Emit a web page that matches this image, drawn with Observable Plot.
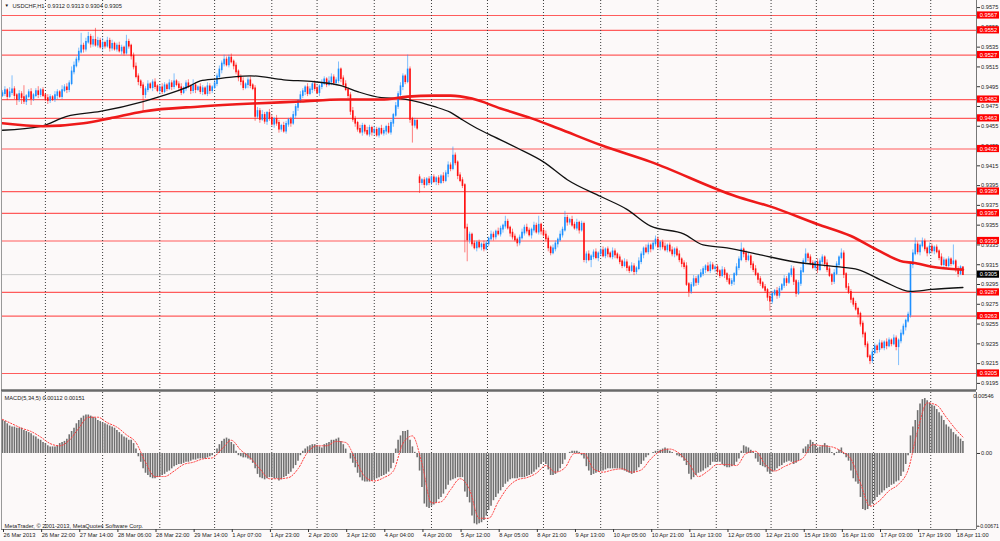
<!DOCTYPE html>
<html><head><meta charset="utf-8">
<script src="https://cdn.jsdelivr.net/npm/d3@7"></script>
<script src="https://cdn.jsdelivr.net/npm/@observablehq/plot@0.6"></script>
<style>
html,body{margin:0;padding:0;background:#fcf9f9;}
#chart{width:1000px;height:541px;background:#fcf9f9;overflow:hidden;}
#chart svg{display:block;}
</style></head><body><div id="chart"></div>
<script>
// ---------- DATA (prices in pips above 0.9000, MACD in units of 0.0001) ----------
const symbolTitle = "USDCHF,H1";
const firstOpenPips = 486;
const gapBars = [175];
const gapOpenPips = [403];
const closePips = [
488,491,485,489,492,486,482,487,484,480,485,489,483,486,490,487,491,486,483,481,
484,482,486,489,485,491,494,492,498,510,516,522,530,536,533,540,545,538,542,537,
541,535,539,536,541,534,538,533,536,531,534,529,540,536,526,515,505,500,496,487,
492,497,494,499,495,491,494,490,496,493,498,495,500,497,494,489,493,498,495,491,
496,492,494,490,493,488,495,491,494,498,505,512,518,522,517,524,520,516,510,504,
500,494,497,501,496,493,465,470,462,466,460,468,463,457,462,458,452,455,450,457,
461,458,466,474,480,486,490,494,488,492,497,493,489,495,498,502,497,500,504,499,
501,512,503,497,492,486,470,462,458,452,449,455,450,447,453,449,451,446,452,448,
450,454,449,458,466,475,487,495,505,500,512,462,456,460,453,398,400,396,401,398,
403,399,402,398,404,400,407,415,412,425,418,405,400,395,352,340,345,336,332,337,
333,335,331,336,341,345,343,348,346,351,354,358,352,347,343,340,337,342,347,352,
349,345,350,354,348,355,349,345,341,332,327,331,336,340,345,350,362,358,360,355,
352,357,350,356,320,325,320,323,327,322,326,329,324,330,326,323,328,325,322,318,
314,317,312,309,313,308,311,318,325,331,328,334,331,336,340,333,337,333,330,334,
329,326,330,325,320,316,313,295,288,294,300,297,303,306,310,313,309,314,311,312,
308,304,309,305,300,296,298,305,312,320,330,326,320,323,315,310,305,300,296,292,
289,282,278,285,288,284,290,294,300,297,305,310,298,286,296,308,318,325,322,316,
312,317,310,318,322,316,310,304,298,306,315,322,326,305,292,287,280,275,270,265,
255,245,234,222,218,226,232,229,235,231,236,233,238,235,240,232,238,245,252,258,
264,315,326,335,328,334,338,331,327,333,329,332,328,322,315,319,314,320,316,318,
310,306,312,305];
const upperWick = [
3,4,2,5,14,3,2,4,3,12,2,3,4,2,3,5,2,3,2,4,
3,2,4,3,2,5,3,4,3,5,4,3,4,13,3,4,5,3,4,12,
4,3,5,2,4,3,4,2,3,4,3,2,7,3,2,3,4,3,2,3,
3,4,2,3,4,2,3,4,3,2,4,3,8,2,3,4,2,3,4,2,
6,3,2,4,3,2,4,3,2,4,3,4,3,5,3,3,4,2,3,2,
3,4,2,3,4,2,3,4,3,5,3,2,4,3,2,4,3,2,4,3,
2,3,4,3,2,4,3,2,4,3,2,4,3,2,4,3,2,5,4,3,
3,8,2,3,4,2,3,4,3,2,4,3,2,4,3,2,4,3,2,4,
3,2,4,3,2,4,3,4,3,2,15,3,2,3,2,3,2,3,2,3,
2,3,2,3,2,4,3,4,3,9,3,2,3,3,2,4,3,2,3,2,
3,2,4,3,2,4,3,2,4,3,2,6,3,2,4,3,2,3,4,3,
4,3,2,4,3,9,2,3,4,3,2,4,3,2,4,3,7,3,2,4,
3,4,2,3,2,3,4,2,3,4,2,3,4,2,3,2,4,3,2,3,
2,4,3,2,4,3,2,4,3,2,4,3,2,3,4,3,2,3,4,2,
3,4,2,3,4,2,3,4,2,3,4,3,2,4,3,2,4,4,3,2,
3,2,4,3,2,4,3,2,4,3,7,2,3,4,2,3,4,2,3,2,
3,2,4,3,2,4,3,2,4,3,2,4,3,2,3,4,3,6,2,3,
3,2,4,3,3,2,4,3,2,4,3,2,5,3,2,4,3,2,3,2,
2,3,2,3,2,4,3,2,4,3,2,4,3,2,4,3,2,4,3,2,
3,2,4,7,3,2,4,3,2,4,3,2,3,2,4,3,2,3,2,17,
2,3,2,1];
const lowerWick = [
2,3,4,2,3,4,6,3,7,3,4,2,7,3,2,4,3,2,3,4,
3,2,3,4,2,3,2,4,3,2,3,2,3,2,4,3,2,4,3,2,
3,2,4,3,2,4,3,2,3,2,4,3,2,3,4,3,2,4,3,17,
4,3,2,4,3,2,4,3,2,3,2,4,3,2,4,3,2,3,2,4,
3,4,2,3,4,2,3,4,3,2,3,2,4,3,2,3,2,4,3,4,
4,3,2,4,3,2,5,3,4,2,3,4,3,2,4,3,4,3,2,3,
3,4,2,3,4,2,3,4,3,2,4,3,2,4,3,2,3,2,4,3,
2,3,4,3,2,3,4,3,4,3,2,4,3,2,3,4,3,2,3,2,
3,4,2,3,4,2,3,2,4,3,2,4,18,3,2,11,3,4,2,3,
3,2,4,3,2,3,2,4,3,2,3,4,2,3,25,22,4,3,2,4,
2,4,3,2,3,2,4,3,2,3,4,3,2,4,3,2,4,3,2,3,
3,2,4,3,2,3,4,2,3,4,3,2,3,4,2,3,2,4,3,2,
2,3,4,2,3,4,2,8,3,2,4,3,2,3,4,2,3,4,2,3,
3,2,4,3,2,4,3,2,3,4,2,3,4,2,3,2,4,3,2,3,
2,3,4,2,3,4,3,2,6,3,2,4,3,2,3,4,2,3,2,4,
4,3,2,4,3,2,3,4,2,3,2,4,3,2,4,3,2,4,3,2,
3,4,10,3,2,4,3,2,3,4,2,3,4,4,2,3,2,3,4,2,
2,3,4,2,3,4,3,2,4,3,2,3,2,4,3,2,4,3,2,4,
3,4,3,2,4,3,2,4,3,2,3,4,2,3,2,4,19,3,2,4,
2,3,4,2,3,4,2,3,4,2,3,4,2,3,2,4,3,2,3,2,
3,4,2,1];
const macdHist = [
30,29,27,25,24,24,23,23,23,21,20,19,18,16,15,13,12,10,9,7,
6,6,6,7,9,10,11,13,17,20,23,27,30,32,34,35,35,34,33,32,
30,29,28,27,26,25,24,23,21,19,17,15,14,12,12,9,4,-3,-8,-14,
-18,-20,-22,-23,-23,-22,-21,-20,-19,-17,-16,-14,-12,-11,-10,-10,-9,-8,-8,-7,
-6,-6,-5,-5,-5,-5,-4,-3,-2,0,4,8,11,13,14,13,10,8,2,-2,
-3,-4,-4,-5,-6,-9,-14,-19,-22,-23,-24,-23,-22,-22,-23,-23,-25,-24,-22,-21,
-19,-17,-14,-11,-7,-2,2,4,6,7,8,8,7,6,5,8,9,10,12,12,
13,14,11,8,4,0,-5,-9,-13,-18,-22,-25,-26,-26,-26,-25,-24,-23,-22,-21,
-20,-19,-17,-14,-9,4,12,16,20,20,21,12,6,1,-4,-16,-31,-46,-49,-50,
-48,-47,-45,-42,-40,-37,-33,-29,-25,-24,-23,-22,-22,-22,-35,-40,-45,-57,-64,-65,
-64,-63,-61,-57,-52,-48,-43,-40,-37,-34,-31,-28,-26,-24,-23,-23,-23,-22,-22,-22,
-21,-20,-19,-17,-15,-13,-10,-8,-10,-15,-20,-20,-19,-17,-14,-10,-6,0,1,2,
2,2,1,-2,-5,-12,-16,-20,-19,-18,-17,-16,-16,-15,-14,-14,-14,-14,-14,-14,
-15,-16,-17,-18,-19,-18,-16,-13,-10,-7,-4,-2,0,1,2,2,3,4,5,4,
2,1,0,-2,-3,-4,-7,-11,-19,-24,-22,-20,-18,-17,-16,-14,-13,-11,-8,-8,
-8,-8,-10,-12,-13,-13,-12,-11,-8,-5,2,7,6,5,3,1,-5,-8,-11,-12,
-13,-17,-19,-17,-16,-14,-12,-11,-9,-8,-7,-8,-10,-9,-7,0,4,6,8,12,
10,8,5,6,7,9,7,5,1,-2,1,3,5,-1,-4,-7,-16,-23,-26,-28,
-40,-51,-52,-51,-48,-46,-43,-40,-38,-36,-34,-32,-31,-29,-28,-26,-25,-21,-17,-10,
-2,16,24,30,39,45,49,50,48,46,44,43,40,37,34,30,26,24,22,19,
17,15,13,11];
const signalBars = [0,4,8,12,16,20,24,28,32,36,40,44,48,52,56,60,64,68,72,76,80,84,88,92,96,100,
104,108,112,116,120,124,128,132,136,140,144,148,152,156,160,164,168,172,176,180,184,188,192,196,200,
204,208,212,216,220,224,228,232,236,240,244,248,252,256,260,264,268,272,276,280,284,288,292,296,300,
304,308,312,316,320,324,328,332,336,340,344,348,352,356,360,364,368,372,376,380,384,388,392,396,400,403];
const signalVals = [31,27,23,20,15,9,7,12,23,33,33,28,24,17,10,-8,-21,-21,-16,-10,
-8,-5,-4,4,12,3,-4,-14,-23,-23,-22,-14,1,7,7,11,10,-5,-21,-25,
-22,-16,9,16,-9,-45,-44,-33,-23,-33,-59,-59,-44,-31,-24,-22,-18,-11,-17,-13,
0,0,-14,-17,-15,-14,-17,-15,-5,2,4,0,-9,-21,-16,-10,-10,-11,0,2,
-10,-16,-12,-8,-4,8,7,6,2,-5,-27,-48,-43,-34,-28,-15,21,46,44,33,22,15];
const blackMABars = [0,16,27,41,59,66,78,83,90,97,104,118,131,142,149,159,167,172,181,188,192,199,204,216,227,237,251,262,272,286,294,304,318,332,350,359,370,381,390,403];
const blackMAPips = [451,455,465,470,480,485,495,501,503,505,506,502,500,496,490,484,483,481,475,469,463,453,447,433,419,401,384,371,354,346,335,332,325,318,313,310,298,288,290,292];
const redMABars = [0,17,34,45,59,83,105,125,142,159,170,181,188,197,209,222,233,251,272,308,322,342,356,367,378,382,390,393,403];
const redMAPips = [458,455,458,463,470,475,478,480,482,482,485,486,486,483,473,463,453,436,419,384,374,356,344,330,318,317,313,312,310];
const levels = [0.9567,0.9552,0.9527,0.9482,0.9463,0.9432,0.9389,0.9367,0.9339,0.9287,0.9263,0.9205];
const bidPrice = 0.9305;
const priceTicks = [0.9575,0.9555,0.9535,0.9515,0.9495,0.9475,0.9455,0.9435,0.9415,0.9395,0.9375,0.9355,0.9335,0.9315,0.9295,0.9275,0.9255,0.9235,0.9215,0.9195];
const gridBars = [18,42,66,89,113,132,156,180,203.5,227,251,275,299.5,322.5,341.5,365.5,389.5];
const labelBars = [0,16,32,48,64,80,96,112,128,144,160,176,192,208,224,240,256,272,288,304,320,336,352,368,384,400];
const labelTexts = ["26 Mar 2013","26 Mar 22:00","27 Mar 14:00","28 Mar 06:00","28 Mar 22:00","29 Mar 14:00","1 Apr 07:00","1 Apr 23:00","2 Apr 20:00","3 Apr 12:00","4 Apr 04:00","4 Apr 20:00","5 Apr 12:00","8 Apr 05:00","8 Apr 21:00","9 Apr 13:00","10 Apr 05:00","10 Apr 21:00","11 Apr 13:00","12 Apr 05:00","12 Apr 21:00","15 Apr 19:00","16 Apr 11:00","17 Apr 03:00","17 Apr 19:00","18 Apr 11:00"];
const macdTitle = "MACD(5,34,5) 0.00112 0.00151";
const macdMax = 0.00546, macdMin = -0.00671;
const copyright = "MetaTrader, \u00a9 2001-2013, MetaQuotes Software Corp.";

// ---------- BUILD ----------
const P = p => 0.9 + p / 10000;
const M = v => v / 10000;
const gapMap = new Map(gapBars.map((b, k) => [b, gapOpenPips[k]]));
const bars = closePips.map((c, i) => {
  const o = gapMap.has(i) ? gapMap.get(i) : (i === 0 ? firstOpenPips : closePips[i - 1]);
  return {i, o: P(o), c: P(c), h: P(Math.max(o, c) + upperWick[i]), l: P(Math.min(o, c) - lowerWick[i]), up: c >= o};
});
const last = bars[bars.length - 1];
const title = `${symbolTitle}  ${last.o.toFixed(4)} ${last.h.toFixed(4)} ${last.l.toFixed(4)} ${last.c.toFixed(4)}`;
const macdData = macdHist.map((v, i) => ({i, v: M(v)}));
const signalData = signalBars.map((b, k) => ({i: b, v: M(signalVals[k])}));
const blackMA = blackMABars.map((b, k) => ({i: b, v: P(blackMAPips[k])}));
const redMA = redMABars.map((b, k) => ({i: b, v: P(redMAPips[k])}));
const labelMap = new Map(labelBars.map((b, k) => [b, labelTexts[k]]));

const W = 1000, mL = 1, mR = 24;
const xDomain = [-0.42, 408.7];
const pxToBar = px => xDomain[0] + (px - mL) / (W - mL - mR) * (xDomain[1] - xDomain[0]);
const FONT = "Liberation Sans, Arial, sans-serif";
const FS = 5.7;
const mainH = 391;
const yDomain = [0.918783, 0.958217];
const pricePerPx = (yDomain[1] - yDomain[0]) / 390;
const boxHalf = 3.6 * pricePerPx;
const bx1 = pxToBar(977), bx2 = pxToBar(999), bxm = pxToBar(988);
const dotted = {stroke: "#3c3c3c", strokeWidth: 1, strokeDasharray: "1,2"};

const main = Plot.plot({
  width: W, height: mainH, marginLeft: mL, marginRight: mR, marginTop: 0, marginBottom: 1,
  style: {background: "transparent", fontFamily: FONT, color: "#333", overflow: "visible"},
  x: {domain: xDomain, axis: null},
  y: {domain: yDomain, axis: null},
  marks: [
    Plot.ruleY(levels, {stroke: "#ff5c5c", strokeWidth: 1.2}),
    Plot.ruleY([bidPrice], {stroke: "#c8c8c8", strokeWidth: 1}),
    Plot.ruleX(gridBars, dotted),
    Plot.ruleX(bars, {x: "i", y1: "l", y2: "h", stroke: d => d.up ? "#1e90ff" : "#ff1a1a", strokeOpacity: 0.55, strokeWidth: 1}),
    Plot.ruleX(bars, {x: "i", y1: "o", y2: "c", stroke: d => d.up ? "#1e90ff" : "#ff1010", strokeWidth: 1.6, strokeLinecap: "square"}),
    Plot.line(blackMA, {x: "i", y: "v", stroke: "#111", strokeWidth: 1.3, curve: "monotone-x"}),
    Plot.line(redMA, {x: "i", y: "v", stroke: "#ee1a1a", strokeWidth: 2.6, curve: "monotone-x"}),
    Plot.ruleX([xDomain[0]], {stroke: "#999"}),
    Plot.ruleX([xDomain[1]], {stroke: "#777"}),
    Plot.ruleY([yDomain[0]], {stroke: "#6a6a6a", strokeWidth: 2.4}),
    Plot.axisY(priceTicks, {anchor: "right", tickSize: 3, tickPadding: 1.5, fontSize: FS, tickFormat: d3.format(".4f"), label: null, fill: "#222"}),
    Plot.rect(levels, {x1: bx1, x2: bx2, y1: d => d - boxHalf, y2: d => d + boxHalf, fill: "#ff0000"}),
    Plot.text(levels, {x: bxm, y: d => d, text: d => d.toFixed(4), fill: "#fff", fontSize: FS, fontFamily: FONT}),
    Plot.rect([bidPrice], {x1: bx1, x2: bx2, y1: d => d - boxHalf, y2: d => d + boxHalf, fill: "#000"}),
    Plot.text([bidPrice], {x: bxm, y: d => d, text: d => d.toFixed(4), fill: "#fff", fontSize: FS, fontFamily: FONT}),
    Plot.text(["\u25BC"], {frameAnchor: "top-left", dx: 3, dy: 3.5, fontSize: 4.5, fill: "#111", textAnchor: "start", lineAnchor: "top"}),
    Plot.text([title], {frameAnchor: "top-left", dx: 11, dy: 3, fontSize: FS, fill: "#222", textAnchor: "start", lineAnchor: "top", fontFamily: FONT})
  ]
});

const macdDomain = [-0.00692, 0.00555];
const macd = Plot.plot({
  width: W, height: 150, marginLeft: mL, marginRight: mR, marginTop: 1, marginBottom: 12,
  style: {background: "transparent", fontFamily: FONT, color: "#333", overflow: "visible"},
  x: {domain: xDomain, axis: null},
  y: {domain: macdDomain, axis: null},
  marks: [
    Plot.ruleX(gridBars, dotted),
    Plot.ruleX(macdData, {x: "i", y1: 0, y2: "v", stroke: "#707070", strokeWidth: 1.6}),
    Plot.line(signalData, {x: "i", y: "v", stroke: "#ff3c3c", strokeWidth: 1, strokeDasharray: "1.3,1.7", curve: "monotone-x"}),
    Plot.ruleX([xDomain[0]], {stroke: "#999"}),
    Plot.ruleX([xDomain[1]], {stroke: "#777"}),
    Plot.ruleY([macdDomain[0]], {stroke: "#777"}),
    Plot.axisX(labelBars, {anchor: "bottom", tickSize: 3, tickPadding: 0.5, tickFormat: d => labelMap.get(d), textAnchor: "start", dx: 1, fontSize: FS, label: null, fill: "#222"}),
    Plot.axisY([0], {anchor: "right", tickSize: 3, tickPadding: 1.5, tickFormat: () => "0.00", fontSize: FS, label: null, fill: "#222"}),
    Plot.axisY([macdMin], {anchor: "right", tickSize: 2, tickPadding: 0, tickFormat: d => d.toFixed(5), fontSize: 5.2, label: null, fill: "#222", dy: -1}),
    Plot.text([macdMax], {x: bxm, y: d => d, dx: -5, dy: 3, text: d => d.toFixed(5), fontSize: FS, fill: "#222", textAnchor: "middle", fontFamily: FONT}),
    Plot.text([macdTitle], {frameAnchor: "top-left", dx: 3, dy: 3, fontSize: FS, fill: "#222", textAnchor: "start", lineAnchor: "top", fontFamily: FONT}),
    Plot.text([copyright], {frameAnchor: "bottom-left", dx: 3, dy: -1.5, fontSize: FS, fill: "#222", textAnchor: "start", lineAnchor: "bottom", fontFamily: FONT})
  ]
});

const root = document.getElementById("chart");
root.appendChild(main);
root.appendChild(macd);

if (closePips.length !== upperWick.length || closePips.length !== lowerWick.length || closePips.length !== macdHist.length || signalBars.length !== signalVals.length) {
  throw new Error(`length mismatch ${closePips.length} ${upperWick.length} ${lowerWick.length} ${macdHist.length} ${signalBars.length} ${signalVals.length}`);
}
</script></body></html>
